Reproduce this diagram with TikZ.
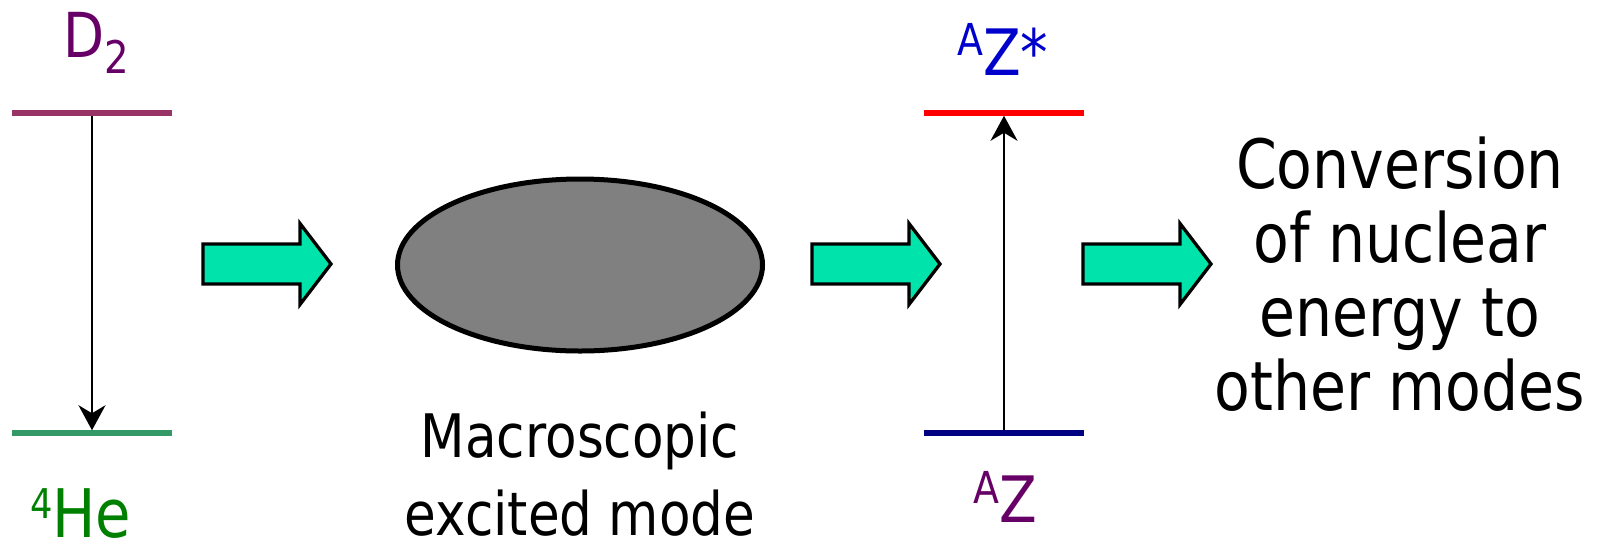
\documentclass[tikz,border=0pt]{standalone}
\usepackage{fontspec}
\setmainfont{DejaVu Sans}[FakeStretch=0.86]
\usetikzlibrary{arrows.meta,shapes.geometric}
\definecolor{colDtext}{HTML}{660066}
\definecolor{colDline}{HTML}{993366}
\definecolor{colHeline}{HTML}{339966}
\definecolor{colHetext}{HTML}{008000}
\definecolor{colZblue}{HTML}{0000CC}
\definecolor{colNavy}{HTML}{000080}
\definecolor{colRed}{HTML}{FF0000}
\definecolor{colMint}{HTML}{00E3AA}
\definecolor{colGray}{HTML}{808080}
\begin{document}
\begin{tikzpicture}[x=1pt,y=-1pt,
  level/.style={minimum width=160pt,minimum height=5.5pt,inner sep=0pt,outer sep=0pt,fill=#1},
  trans/.style={line width=2.2pt,-{Stealth[length=25pt,width=27pt,inset=8pt]}},
  fat/.style={draw=black,line width=3.3pt,fill=colMint,line join=miter},
  fatarrow/.pic={\path[fat] (0,-20) -- (97,-20) -- (97,-40.5) -- (128,0) -- (97,40.5) -- (97,20) -- (0,20) -- cycle;},
  lbl/.style={inner sep=0pt,anchor=base west},
  big/.style={align=center,inner sep=0pt,anchor=base}]
\useasboundingbox (0,0) rectangle (1597,542);

% energy levels
\node[level=colDline] (d2line) at (92,113) {};
\node[level=colHeline] (heline) at (92,433) {};
\node[level=colRed] (azsline) at (1004,113) {};
\node[level=colNavy] (azline) at (1004,433) {};

\draw[trans] (d2line.south) -- (heline.north);
\draw[trans] (azline.north) -- (azsline.south);

% labels
\node[lbl,text=colDtext] (d2) at (63,57) {\fontsize{62}{62}\selectfont D\raisebox{-16pt}{\fontsize{45}{45}\selectfont 2}};
\node[lbl,text=colHetext] (he) at (30,537) {\raisebox{19pt}{\fontsize{41}{41}\selectfont 4}\fontsize{67}{67}\selectfont He};
\node[lbl,text=colZblue] (azs) at (957,75) {\raisebox{20pt}{\fontsize{44}{44}\selectfont A}\fontsize{64}{64}\selectfont Z*};
\node[lbl,text=colDtext] (az) at (973,522) {\raisebox{19pt}{\fontsize{44}{44}\selectfont A}\fontsize{64}{64}\selectfont Z};

% ellipse
\node[draw,line width=5pt,fill=colGray,ellipse,minimum width=365pt,minimum height=172pt,inner sep=0pt] (ell) at (580,265) {};

% fat arrows
\pic at (203,264) {fatarrow};
\pic at (812,264) {fatarrow};
\pic at (1083,264) {fatarrow};

% texts
\node[big,font=\fontsize{60}{78}\selectfont] (macro) at (580,535) {Macroscopic\\excited mode};
\node[big,font=\fontsize{68}{74}\selectfont] (conv) at (1400,410) {Conversion\\of nuclear\\energy to\\other modes};
\end{tikzpicture}
\end{document}
